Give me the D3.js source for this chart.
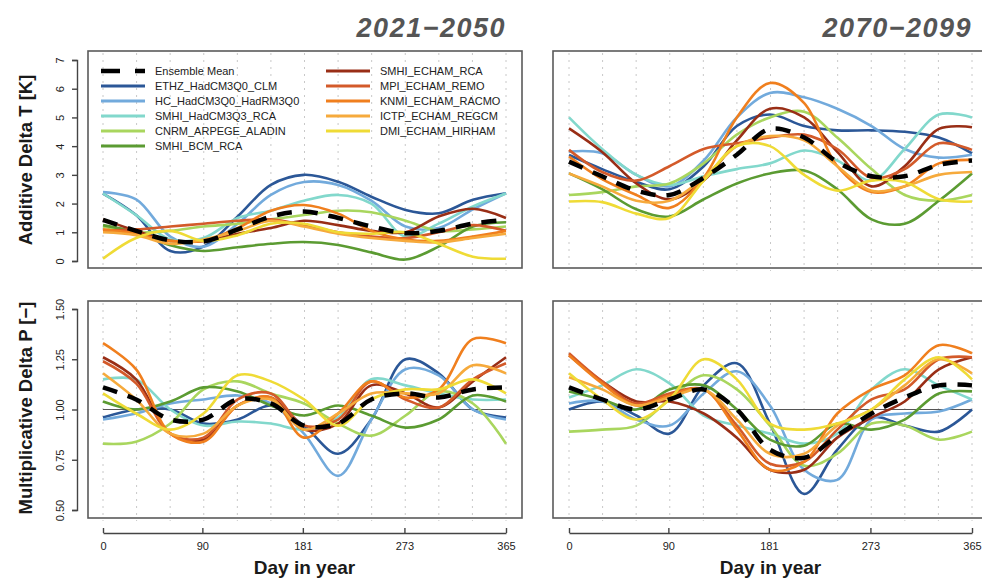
<!DOCTYPE html>
<html>
<head>
<meta charset="utf-8">
<style>
  body { margin: 0; background: #fff; }
  svg { display: block; }
  text { font-family: "Liberation Sans", Arial, sans-serif; }
</style>
</head>
<body>
<svg width="982" height="579"></svg>
<script src="https://cdn.jsdelivr.net/npm/d3@7"></script>
<script>
// control days (roughly monthly) at which curves were read off
const days = [0, 30, 61, 91, 122, 152, 182, 213, 243, 274, 304, 335, 365];

const models = ["Ensemble Mean", "ETHZ_HadCM3Q0_CLM", "HC_HadCM3Q0_HadRM3Q0", "SMHI_HadCM3Q3_RCA",
  "CNRM_ARPEGE_ALADIN", "SMHI_BCM_RCA", "SMHI_ECHAM_RCA", "MPI_ECHAM_REMO",
  "KNMI_ECHAM_RACMO", "ICTP_ECHAM_REGCM", "DMI_ECHAM_HIRHAM"];
const colors = ["#000000", "#2b5797", "#72aadc", "#82d8cc", "#a9d65e", "#5b9b32",
  "#992e16", "#d35a2a", "#f07f1e", "#f6aa3c", "#efdb36"];

const periods = ["2021\u22122050", "2070\u22122099"];
const xTicks = [0, 90, 181, 273, 365];
const tTicks = [0, 1, 2, 3, 4, 5, 6, 7];
const pTicks = [0.5, 0.75, 1.0, 1.25, 1.5];

// additive delta T, 2021-2050 (same order as models)
const dT_near = [
  [1.43, 1.05, 0.72, 0.68, 1.1, 1.55, 1.72, 1.5, 1.2, 0.97, 1.05, 1.3, 1.43],
  [2.35, 1.6, 0.35, 0.5, 1.55, 2.65, 3.0, 2.76, 2.24, 1.78, 1.66, 2.13, 2.36],
  [2.4, 2.15, 0.85, 0.5, 1.3, 2.3, 2.75, 2.65, 2.1, 1.2, 1.15, 1.8, 2.36],
  [2.35, 1.6, 0.75, 0.8, 1.5, 1.75, 2.1, 2.3, 2.0, 0.85, 1.3, 1.9, 2.35],
  [1.2, 1.0, 1.05, 1.2, 1.3, 1.45, 1.6, 1.75, 1.7, 1.4, 1.05, 1.1, 1.2],
  [1.25, 1.0, 0.55, 0.35, 0.48, 0.6, 0.66, 0.56, 0.3, 0.05, 0.5, 1.2, 1.35],
  [1.45, 1.05, 0.7, 0.7, 0.95, 1.15, 1.4, 1.25, 1.05, 1.0, 1.55, 1.82, 1.5],
  [1.05, 1.1, 1.2, 1.3, 1.4, 1.45, 1.25, 1.0, 0.85, 0.8, 1.0, 1.25, 1.05],
  [1.1, 0.95, 0.7, 0.7, 1.15, 1.75, 1.95, 1.65, 1.05, 0.75, 0.7, 0.85, 1.05],
  [1.0, 0.9, 0.6, 0.75, 1.05, 1.4, 1.2, 0.95, 0.8, 0.7, 0.65, 0.8, 0.95],
  [0.08, 0.8, 1.05, 0.7, 0.9, 1.3, 1.3, 1.0, 0.95, 1.0, 0.6, 0.15, 0.08]
];

// additive delta T, 2070-2099
const dT_far = [
  [3.46, 2.95, 2.45, 2.3, 2.9, 3.7, 4.6, 4.3, 3.45, 2.95, 2.95, 3.35, 3.5],
  [3.69, 3.2, 2.75, 2.5, 3.3, 4.7, 5.1, 4.7, 4.55, 4.55, 4.5, 4.3, 3.75],
  [3.81, 3.75, 3.0, 2.6, 3.5, 5.0, 5.85, 5.7, 5.3, 4.7, 3.9, 3.6, 3.7],
  [5.0, 3.9, 3.0, 2.65, 2.95, 3.2, 3.4, 3.85, 3.5, 2.8, 3.9, 5.1, 5.0],
  [2.3, 2.4, 2.6, 2.7, 3.4, 4.4, 5.0, 5.2, 4.3, 3.2, 2.3, 2.1, 2.3],
  [3.05, 2.5, 1.8, 1.55, 2.15, 2.7, 3.05, 3.15, 2.5, 1.45, 1.3, 2.1, 3.05],
  [4.62, 3.8, 2.7, 2.15, 2.8, 4.2, 5.3, 5.0, 3.8, 2.6, 3.3, 4.6, 4.66],
  [3.87, 3.1, 2.8, 3.3, 3.9, 4.1, 4.3, 4.4, 3.9, 2.9, 3.2, 4.1, 3.87],
  [3.64, 2.85, 2.3, 1.85, 2.9, 5.0, 6.2, 5.5, 3.3, 2.4, 2.6, 3.4, 3.52],
  [3.05, 2.6, 2.1, 2.1, 2.9, 4.0, 4.35, 4.2, 3.3, 2.45, 2.6, 3.0, 3.1],
  [2.07, 2.05, 1.65, 1.5, 2.8, 4.0, 4.0, 3.0, 2.45, 2.8, 2.75, 2.15, 2.07]
];

// multiplicative delta P, 2021-2050
const dP_near = [
  [1.11, 1.05, 0.95, 0.95, 1.05, 1.03, 0.92, 0.93, 1.05, 1.08, 1.06, 1.1, 1.11],
  [0.96, 1.0, 1.0, 0.93, 0.95, 1.02, 0.92, 0.78, 0.95, 1.25, 1.18, 1.0, 0.96],
  [0.95, 0.98, 1.03, 1.05, 1.07, 1.03, 0.88, 0.67, 0.95, 1.2, 1.17, 1.0, 0.95],
  [1.15, 1.15, 1.0, 0.92, 0.94, 0.93, 0.9, 0.96, 1.15, 1.12, 1.08, 1.05, 1.05],
  [0.83, 0.84, 0.93, 1.1, 1.14, 1.08, 1.03, 0.93, 0.87, 0.97, 1.09, 1.03, 0.83],
  [1.04, 1.0, 1.04, 1.11, 1.09, 1.02, 0.97, 1.02, 0.97, 0.91, 0.95, 1.07, 1.04],
  [1.26, 1.15, 0.88, 0.85, 1.02, 1.06, 0.9, 0.93, 1.12, 1.08, 1.01, 1.14, 1.26],
  [1.24, 1.13, 0.88, 0.86, 1.05, 1.08, 0.92, 0.95, 1.14, 1.05, 1.01, 1.15, 1.23],
  [1.33, 1.2, 0.88, 0.84, 1.02, 1.06, 0.86, 0.98, 1.14, 1.06, 1.1, 1.35, 1.33],
  [1.18, 1.05, 0.88, 0.88, 1.02, 1.05, 0.9, 0.98, 1.08, 1.08, 1.08, 1.22, 1.18],
  [1.08, 0.98, 0.9, 0.98, 1.17, 1.14, 1.05, 0.92, 1.05, 1.1, 1.1, 1.15, 1.08]
];

// multiplicative delta P, 2070-2099
const dP_far = [
  [1.11, 1.05, 1.0, 1.05, 1.1, 1.0, 0.8, 0.76, 0.87, 0.98, 1.06, 1.12, 1.12],
  [1.0, 1.04, 0.97, 0.88, 1.12, 1.23, 0.93, 0.58, 0.8, 0.96, 0.92, 0.89, 1.0],
  [1.03, 1.04, 0.95, 0.92, 1.08, 1.19, 1.02, 0.7, 0.65, 0.95, 0.98, 0.99, 1.05],
  [1.06, 1.12, 1.2, 1.13, 0.97, 0.92, 0.88, 0.83, 0.88, 1.1, 1.2, 1.12, 1.05],
  [0.89, 0.9, 0.92, 1.05, 1.17, 1.1, 0.92, 0.72, 0.78, 0.93, 0.92, 0.85, 0.89],
  [1.09, 1.05, 1.0, 1.1, 1.12, 1.0, 0.85, 0.82, 0.93, 0.9, 0.95, 1.08, 1.09],
  [1.27, 1.14, 1.04, 1.04, 0.98, 0.86, 0.7, 0.7, 0.86, 0.96, 1.04, 1.2, 1.26],
  [1.28, 1.14, 1.03, 1.08, 1.1, 0.92, 0.73, 0.74, 0.9, 1.05, 1.1, 1.25, 1.26],
  [1.27, 1.13, 1.02, 1.07, 1.1, 0.9, 0.7, 0.74, 0.98, 1.1, 1.17, 1.32, 1.28],
  [1.16, 1.1, 1.02, 1.06, 1.1, 0.95, 0.78, 0.78, 0.92, 1.0, 1.12, 1.25, 1.18],
  [1.18, 1.05, 0.95, 1.05, 1.25, 1.15, 0.93, 0.9, 0.93, 1.0, 1.15, 1.26, 1.15]
];

const svg = d3.select("svg");

const xLeft = d3.scaleLinear().domain([0, 365]).range([103, 506]);
const xRight = d3.scaleLinear().domain([0, 365]).range([569, 972]);
const yTemp = d3.scaleLinear().domain([0, 7]).range([261, 60]);
const yPrec = d3.scaleLinear().domain([0.5, 1.5]).range([510, 309]);

const panels = [
  { x: xLeft, y: yTemp, data: dT_near, box: [88, 51, 522, 268] },
  { x: xRight, y: yTemp, data: dT_far, box: [553, 51, 987, 268] },
  { x: xLeft, y: yPrec, data: dP_near, box: [88, 301, 522, 518], ref: 1 },
  { x: xRight, y: yPrec, data: dP_far, box: [553, 301, 987, 518], ref: 1 }
];

const monthLines = d3.range(13).map(i => i * 365 / 12);

panels.forEach(p => {
  const g = svg.append("g");
  const [x0, y0, x1, y1] = p.box;

  g.selectAll("line.grid")
    .data(monthLines)
    .enter().append("line")
    .attr("x1", d => p.x(d)).attr("x2", d => p.x(d))
    .attr("y1", y0 + 2).attr("y2", y1 + 3)
    .attr("stroke", "#c8c8c8")
    .attr("stroke-width", 1)
    .attr("stroke-dasharray", "2,5");

  if (p.ref) {
    g.append("line")
      .attr("x1", p.x(0)).attr("x2", p.x(365))
      .attr("y1", p.y(p.ref)).attr("y2", p.y(p.ref))
      .attr("stroke", "#555").attr("stroke-width", 1.2);
  }

  const line = d3.line()
    .x((d, i) => p.x(days[i]))
    .y(d => p.y(d))
    .curve(d3.curveCatmullRom.alpha(0.5));

  // models first, ensemble mean last (on top)
  p.data.slice(1).forEach((vals, i) => {
    g.append("path")
      .attr("d", line(vals))
      .attr("fill", "none")
      .attr("stroke", colors[i + 1])
      .attr("stroke-width", 2.6);
  });
  g.append("path")
    .attr("d", line(p.data[0]))
    .attr("fill", "none")
    .attr("stroke", "#000")
    .attr("stroke-width", 4.5)
    .attr("stroke-dasharray", "15,11");

  g.append("rect")
    .attr("x", x0).attr("y", y0)
    .attr("width", x1 - x0).attr("height", y1 - y0)
    .attr("fill", "none")
    .attr("stroke", "#5a5a5a")
    .attr("stroke-width", 1.6);
});

// y axes (left panels only)
function yAxis(scale, ticks, fmt) {
  const g = svg.append("g").attr("transform", "translate(77,0)");
  g.call(d3.axisLeft(scale).tickValues(ticks).tickFormat(fmt).tickSize(5).tickPadding(9));
  g.select(".domain").attr("stroke", "#444").attr("stroke-width", 1.4);
  g.selectAll(".tick line").attr("stroke", "#444").attr("stroke-width", 1.4);
  g.selectAll(".tick text")
    .attr("font-size", 11)
    .attr("fill", "#222")
    .attr("transform", "rotate(-90)")
    .attr("x", 0).attr("dy", 0)
    .attr("y", -13)
    .attr("text-anchor", "middle");
  return g;
}
yAxis(yTemp, tTicks, d3.format("d"));
yAxis(yPrec, pTicks, d3.format(".2f"));

svg.append("text")
  .attr("transform", "translate(32,160) rotate(-90)")
  .attr("text-anchor", "middle")
  .attr("font-size", 18.5).attr("font-weight", "bold").attr("fill", "#1a1a1a")
  .text("Additive Delta T [K]");
svg.append("text")
  .attr("transform", "translate(32,408) rotate(-90)")
  .attr("text-anchor", "middle")
  .attr("font-size", 18.5).attr("font-weight", "bold").attr("fill", "#1a1a1a")
  .text("Multiplicative Delta P [\u2212]");

// x axes (bottom panels), ticks pointing up
[xLeft, xRight].forEach(sc => {
  const g = svg.append("g").attr("transform", "translate(0,533)");
  g.call(d3.axisBottom(sc).tickValues(xTicks).tickSize(-5).tickPadding(9).tickSizeOuter(0));
  g.select(".domain").attr("stroke", "#444").attr("stroke-width", 1.4);
  g.selectAll(".tick line").attr("stroke", "#444").attr("stroke-width", 1.4);
  g.selectAll(".tick text").attr("font-size", 11).attr("fill", "#222");
  svg.append("text")
    .attr("x", (sc(0) + sc(365)) / 2).attr("y", 574)
    .attr("text-anchor", "middle")
    .attr("font-size", 19).attr("font-weight", "bold").attr("fill", "#1a1a1a")
    .text("Day in year");
});

// period titles
[xLeft, xRight].forEach((sc, i) => {
  svg.append("text")
    .attr("x", sc(365)).attr("y", 37)
    .attr("text-anchor", "end")
    .attr("font-size", 27).attr("font-weight", "bold").attr("font-style", "italic")
    .attr("letter-spacing", 1.5)
    .attr("fill", "#555")
    .text(periods[i]);
});

// legend
const legend = svg.append("g");
const legendItems = models.map((m, i) => ({
  name: m, color: colors[i],
  col: i < 6 ? 0 : 1,
  row: i < 6 ? i : i - 6
}));
const colX = [101, 326];
legend.selectAll("line")
  .data(legendItems)
  .enter().append("line")
  .attr("x1", d => colX[d.col]).attr("x2", d => colX[d.col] + 44)
  .attr("y1", d => 71 + d.row * 15).attr("y2", d => 71 + d.row * 15)
  .attr("stroke", d => d.color)
  .attr("stroke-width", d => d.name === "Ensemble Mean" ? 4.5 : 3)
  .attr("stroke-dasharray", d => d.name === "Ensemble Mean" ? "19,15" : null);
legend.selectAll("text")
  .data(legendItems)
  .enter().append("text")
  .attr("x", d => colX[d.col] + 54)
  .attr("y", d => 71 + d.row * 15 + 4)
  .attr("font-size", 11)
  .attr("fill", "#222")
  .text(d => d.name);
</script>
</body>
</html>
